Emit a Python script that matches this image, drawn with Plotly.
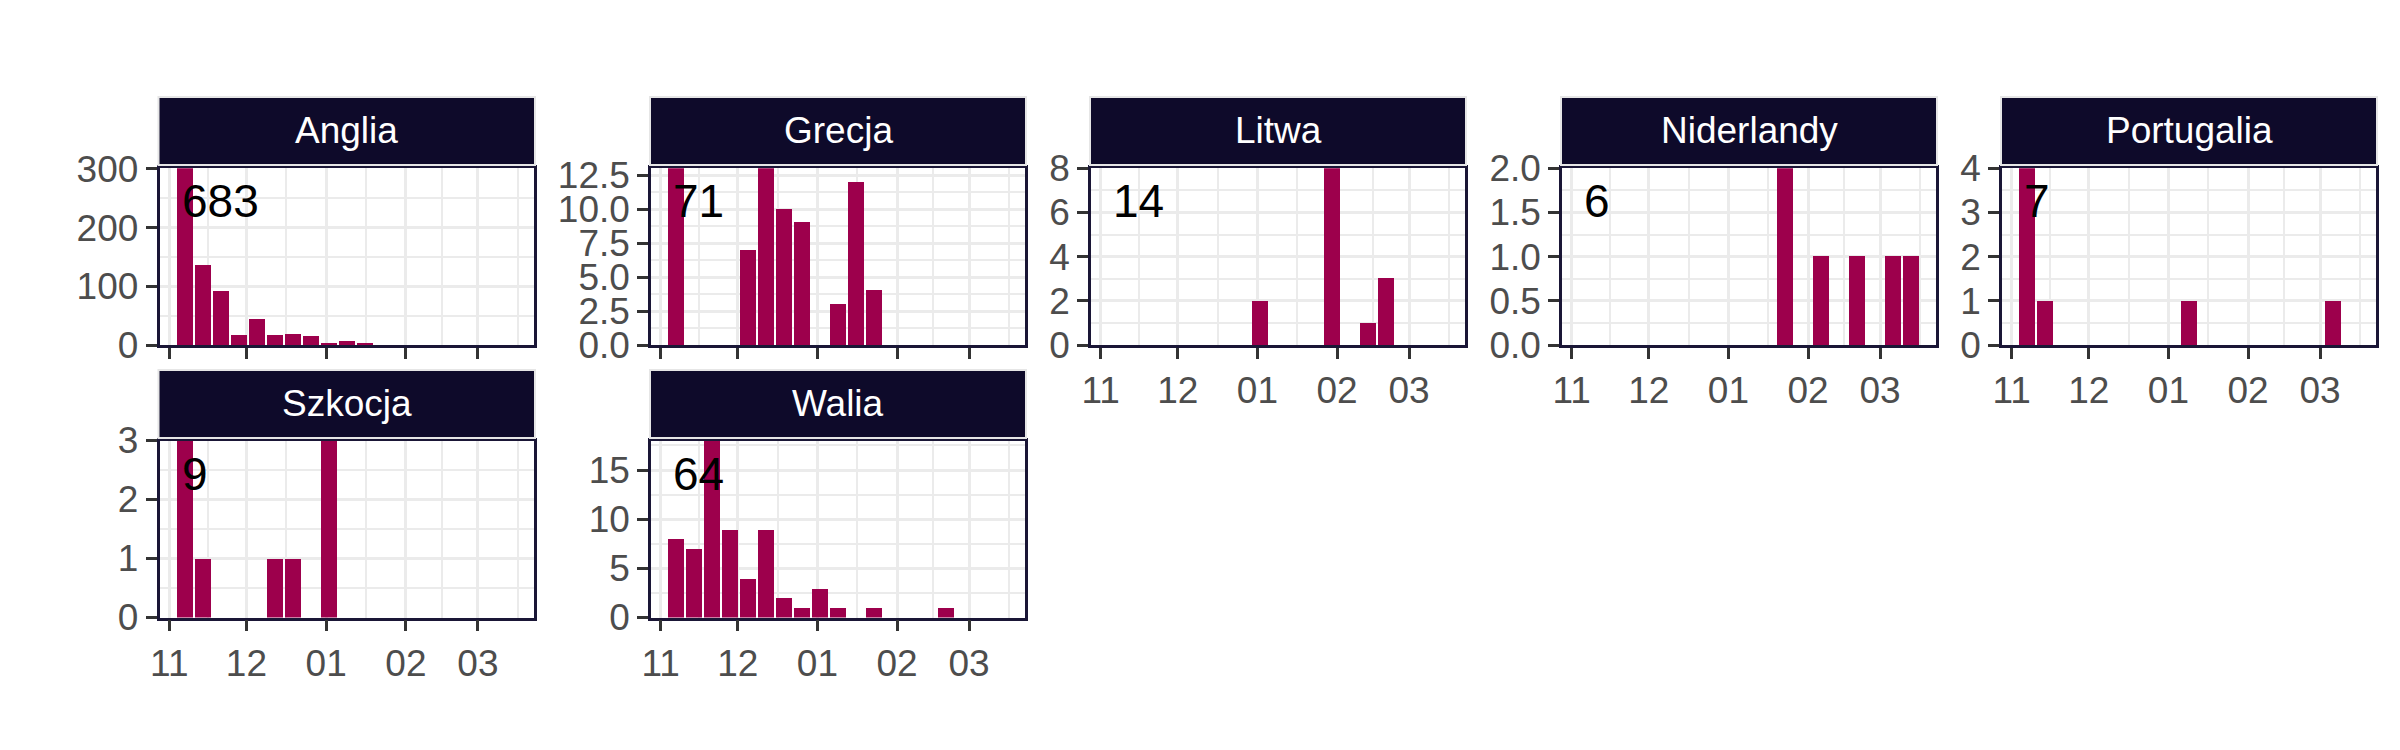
import plotly.graph_objects as go
import pandas as pd

# ---------------- data ----------------
countries = ["Anglia", "Grecja", "Litwa", "Niderlandy", "Portugalia", "Szkocja", "Walia"]

anglia_dates = ["2020-11-07", "2020-11-14", "2020-11-21", "2020-11-28", "2020-12-05", "2020-12-12",
                "2020-12-19", "2020-12-26", "2021-01-02", "2021-01-09", "2021-01-16"]
anglia_counts = [338, 135, 92, 16, 43, 16, 18, 14, 2, 7, 2]

grecja_dates = ["2020-11-07", "2020-12-05", "2020-12-12", "2020-12-19", "2020-12-26",
                "2021-01-09", "2021-01-16", "2021-01-23"]
grecja_counts = [13, 7, 13, 10, 9, 3, 12, 4]

litwa_dates = ["2021-01-02", "2021-01-30", "2021-02-13", "2021-02-20"]
litwa_counts = [2, 8, 1, 3]

niderlandy_dates = ["2021-01-23", "2021-02-06", "2021-02-20", "2021-03-06", "2021-03-13"]
niderlandy_counts = [2, 1, 1, 1, 1]

portugalia_dates = ["2020-11-07", "2020-11-14", "2021-01-09", "2021-03-06"]
portugalia_counts = [4, 1, 1, 1]

szkocja_dates = ["2020-11-07", "2020-11-14", "2020-12-12", "2020-12-19", "2021-01-02"]
szkocja_counts = [3, 1, 1, 1, 3]

walia_dates = ["2020-11-07", "2020-11-14", "2020-11-21", "2020-11-28", "2020-12-05", "2020-12-12",
               "2020-12-19", "2020-12-26", "2021-01-02", "2021-01-09", "2021-01-23", "2021-02-20"]
walia_counts = [8, 7, 18, 9, 4, 9, 2, 1, 3, 1, 1, 1]

month_starts = ["2020-11-01", "2020-12-01", "2021-01-01", "2021-02-01", "2021-03-01"]
month_labels = ["11", "12", "01", "02", "03"]

y_top = [301, 13, 8, 2, 4, 3, 18]
y_dtick = [100, 2.5, 2, 0.5, 1, 1, 5]
y_fmt = ["d", ".1f", "d", ".1f", "d", "d", "d"]

series = [
    (anglia_dates, anglia_counts),
    (grecja_dates, grecja_counts),
    (litwa_dates, litwa_counts),
    (niderlandy_dates, niderlandy_counts),
    (portugalia_dates, portugalia_counts),
    (szkocja_dates, szkocja_counts),
    (walia_dates, walia_counts),
]

# ---------------- layout geometry (pixels) ----------------
W, H = 2400, 750
col_x = {  # panel left/right in px
    0: (159.5, 534), 1: (651, 1025), 2: (1091, 1465), 3: (1562, 1936), 4: (2002, 2376)
}
row_panel = {0: (168.3, 345), 1: (440.5, 617.5)}
row_strip = {0: (97, 165), 1: (370, 438)}
positions = [(0, 0), (0, 1), (0, 2), (0, 3), (0, 4), (1, 0), (1, 1)]
show_xlabels = [False, False, True, True, True, True, True]

BAR = "#9D004C"
STRIP = "#0E0A2A"
BORDER = "#1A1636"
GRID = "#EBEBEB"
FONT = "Liberation Sans, Arial, sans-serif"


def fx(p):
    return p / W


def fy(p):
    return 1 - p / H


ms = pd.to_datetime(month_starts)
prev = ms[0] - pd.DateOffset(months=1)
nxt = ms[-1] + pd.DateOffset(months=1)
all_ms = [prev] + list(ms) + [nxt]
minor_vals = [all_ms[i] + (all_ms[i + 1] - all_ms[i]) / 2 for i in range(len(all_ms) - 1)]

x_range = [pd.Timestamp("2020-10-28 05:00"), pd.Timestamp("2021-03-22 19:00")]
bar_width_ms = 0.9 * 7 * 24 * 3600 * 1000

fig = go.Figure()
annotations = []
shapes = []

for i, (name, (d, v)) in enumerate(zip(countries, series)):
    r, c = positions[i]
    sfx = "" if i == 0 else str(i + 1)
    fig.add_trace(go.Bar(
        x=pd.to_datetime(d), y=v, width=bar_width_ms,
        marker=dict(color=BAR, line=dict(width=0)),
        xaxis="x" + sfx, yaxis="y" + sfx, showlegend=False, hoverinfo="x+y",
    ))
    x0, x1 = col_x[c]
    y0, y1 = row_panel[r]
    fig.update_layout(**{
        "xaxis" + sfx: dict(
            domain=[fx(x0), fx(x1)], range=x_range, anchor="y" + sfx, type="date",
            tickmode="array", tickvals=ms, ticktext=month_labels,
            showticklabels=show_xlabels[i], automargin=False,
            ticks="outside", ticklen=11, tickwidth=3.2, tickcolor="#333333",
            tickfont=dict(size=37, color="#4D4D4D", family=FONT),
            showgrid=True, gridcolor=GRID, gridwidth=3.3,
            minor=dict(tickmode="array", tickvals=minor_vals, showgrid=True,
                       gridcolor=GRID, gridwidth=1.7, ticks=""),
            showline=True, mirror=True, linecolor=BORDER, linewidth=2.5,
            zeroline=False, fixedrange=True,
        ),
        "yaxis" + sfx: dict(
            domain=[fy(y1), fy(y0)], range=[0, y_top[i]], anchor="x" + sfx,
            tickmode="linear", tick0=0, dtick=y_dtick[i], tickformat=y_fmt[i],
            automargin=False,
            ticks="outside", ticklen=11, tickwidth=3.2, tickcolor="#333333",
            tickfont=dict(size=37, color="#4D4D4D", family=FONT),
            showgrid=True, gridcolor=GRID, gridwidth=3.3,
            minor=dict(dtick=y_dtick[i] / 2, tick0=0, showgrid=True,
                       gridcolor=GRID, gridwidth=1.7, ticks=""),
            showline=True, mirror=True, linecolor=BORDER, linewidth=2.5,
            zeroline=False, fixedrange=True,
        ),
    })
    # strip
    sy0, sy1 = row_strip[r]
    shapes.append(dict(type="rect", xref="paper", yref="paper",
                       x0=fx(x0 - 1), x1=fx(x1 + 1), y0=fy(sy1), y1=fy(sy0),
                       fillcolor=STRIP, line=dict(color="#E6E6E6", width=2), layer="above"))
    annotations.append(dict(xref="paper", yref="paper", x=fx((x0 + x1) / 2), y=fy((sy0 + sy1) / 2),
                            text=name, showarrow=False, xanchor="center", yanchor="middle",
                            font=dict(size=37, color="white", family=FONT)))
    # total count label
    annotations.append(dict(xref="paper", yref="paper", x=fx(x0 + 20), y=fy(y0 + 33),
                            text=str(sum(v)), showarrow=False, xanchor="left", yanchor="middle",
                            font=dict(size=46, color="black", family=FONT)))

fig.update_layout(
    template="none",
    width=W, height=H, margin=dict(l=0, r=0, t=0, b=0, pad=0, autoexpand=False),
    paper_bgcolor="white", plot_bgcolor="white",
    bargap=0, annotations=annotations, shapes=shapes,
    font=dict(family=FONT),
)

fig.write_html(
    "out.html",
    config={"displayModeBar": False, "staticPlot": False},
    post_script="document.body.style.margin='0';document.body.style.overflow='hidden';",
)
